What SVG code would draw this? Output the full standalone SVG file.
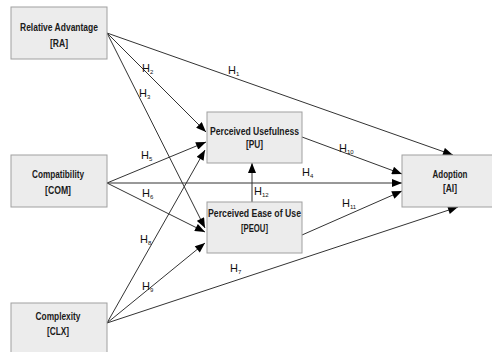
<svg xmlns="http://www.w3.org/2000/svg" width="492" height="352" viewBox="0 0 492 352">
<style>
.box{fill:#ececec;stroke:#a0a0a0;stroke-width:1}
.t{font-family:"Liberation Sans",Arial,sans-serif;font-size:11px;font-weight:bold;fill:#1a1a1a;text-anchor:middle}
.c{stroke:#333;stroke-width:1;fill:none;marker-end:url(#ah)}
.h{font-family:"Liberation Sans",Arial,sans-serif;font-size:11px;fill:#111}
.s{font-size:6px}
</style>
<defs>
<marker id="ah" viewBox="0 0 10 8" refX="10" refY="4" markerWidth="11" markerHeight="8" markerUnits="userSpaceOnUse" orient="auto">
<path d="M0,0 L10,4 L0,8 z" fill="#000"/>
</marker>
</defs>
<rect width="492" height="352" fill="#fff"/>
<g id="connectors">
<line class="c" x1="107" y1="33" x2="453" y2="155"/>
<line class="c" x1="107" y1="33" x2="206" y2="132"/>
<line class="c" x1="107" y1="33" x2="205" y2="228"/>
<line class="c" x1="107" y1="183" x2="206" y2="142"/>
<line class="c" x1="107" y1="183" x2="402" y2="183"/>
<line class="c" x1="107" y1="183" x2="205" y2="232"/>
<line class="c" x1="107" y1="323" x2="205" y2="150"/>
<line class="c" x1="107" y1="323" x2="205" y2="243"/>
<line class="c" x1="107" y1="323" x2="458" y2="207"/>
<line class="c" x1="302" y1="137" x2="402" y2="174"/>
<line class="c" x1="302" y1="235" x2="402" y2="191"/>
<line class="c" x1="252" y1="202" x2="252" y2="163"/>
<text class="h" x="228" y="74">H<tspan class="s" dy="2">1</tspan></text>
<text class="h" x="142" y="72">H<tspan class="s" dy="2">2</tspan></text>
<text class="h" x="139" y="97">H<tspan class="s" dy="2">3</tspan></text>
<text class="h" x="302" y="176">H<tspan class="s" dy="2">4</tspan></text>
<text class="h" x="141" y="159">H<tspan class="s" dy="2">5</tspan></text>
<text class="h" x="142" y="197">H<tspan class="s" dy="2">6</tspan></text>
<text class="h" x="230" y="272">H<tspan class="s" dy="2">7</tspan></text>
<text class="h" x="140" y="243">H<tspan class="s" dy="2">8</tspan></text>
<text class="h" x="142" y="290">H<tspan class="s" dy="2">9</tspan></text>
<text class="h" x="339" y="152">H<tspan class="s" dy="2">10</tspan></text>
<text class="h" x="342" y="207">H<tspan class="s" dy="2">11</tspan></text>
<text class="h" x="254" y="195">H<tspan class="s" dy="2">12</tspan></text>
</g>
<g id="RA">
<rect class="box" x="11" y="7" width="96" height="52"/>
<text class="t" x="59" y="31" textLength="78" lengthAdjust="spacingAndGlyphs">Relative Advantage</text>
<text class="t" x="59" y="47" textLength="18" lengthAdjust="spacingAndGlyphs">[RA]</text>
</g>
<g id="COM">
<rect class="box" x="11" y="155" width="96" height="52"/>
<text class="t" x="58" y="178" textLength="52" lengthAdjust="spacingAndGlyphs">Compatibility</text>
<text class="t" x="58" y="194" textLength="26" lengthAdjust="spacingAndGlyphs">[COM]</text>
</g>
<g id="CLX">
<rect class="box" x="11" y="303" width="96" height="52"/>
<text class="t" x="58" y="320" textLength="45" lengthAdjust="spacingAndGlyphs">Complexity</text>
<text class="t" x="58" y="335" textLength="22" lengthAdjust="spacingAndGlyphs">[CLX]</text>
</g>
<g id="PU">
<rect class="box" x="207" y="112" width="95" height="51"/>
<text class="t" x="254.5" y="135" textLength="89" lengthAdjust="spacingAndGlyphs">Perceived Usefulness</text>
<text class="t" x="254.5" y="148" textLength="17" lengthAdjust="spacingAndGlyphs">[PU]</text>
</g>
<g id="PEOU">
<rect class="box" x="207" y="202" width="95" height="51"/>
<text class="t" x="254.5" y="217" textLength="93" lengthAdjust="spacingAndGlyphs">Perceived Ease of Use</text>
<text class="t" x="254.5" y="232" textLength="27" lengthAdjust="spacingAndGlyphs">[PEOU]</text>
</g>
<g id="AI">
<rect class="box" x="402" y="155" width="96" height="52"/>
<text class="t" x="450" y="178" textLength="35" lengthAdjust="spacingAndGlyphs">Adoption</text>
<text class="t" x="450" y="192" textLength="14" lengthAdjust="spacingAndGlyphs">[AI]</text>
</g>
</svg>
